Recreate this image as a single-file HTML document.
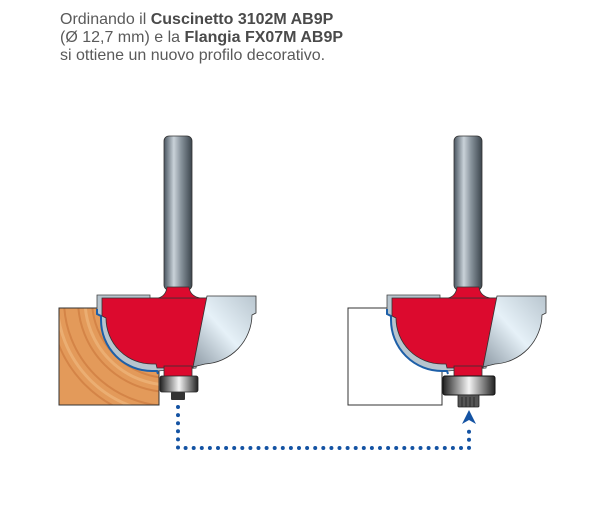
<!DOCTYPE html>
<html><head><meta charset="utf-8"><style>
html,body{margin:0;padding:0;background:#fff;width:616px;height:506px;overflow:hidden}
.t{position:absolute;left:60px;top:11px;font-family:"Liberation Sans","DejaVu Sans",sans-serif;font-size:16px;line-height:18px;color:#5a5a5a}
.t b{color:#4a4a4a}
svg{position:absolute;left:0;top:0}
</style></head><body>
<svg width="616" height="506" viewBox="0 0 616 506">
<defs>
<linearGradient id="sh" x1="0" x2="1" y1="0" y2="0">
<stop offset="0" stop-color="#4a5560"/><stop offset="0.35" stop-color="#c9d2d9"/><stop offset="0.6" stop-color="#8a959e"/><stop offset="1" stop-color="#3c454d"/></linearGradient>
<linearGradient id="sv" x1="0" x2="1" y1="1" y2="0">
<stop offset="0" stop-color="#8d9aa5"/><stop offset="0.5" stop-color="#e6f1f8"/><stop offset="1" stop-color="#b9c6cf"/></linearGradient>
<linearGradient id="br" x1="0" x2="1" y1="0" y2="0">
<stop offset="0" stop-color="#222"/><stop offset="0.2" stop-color="#777"/><stop offset="0.5" stop-color="#f4f4f4"/><stop offset="0.8" stop-color="#777"/><stop offset="1" stop-color="#222"/></linearGradient>
<clipPath id="wc"><rect x="59" y="308" width="100" height="97"/></clipPath>
<g id="cut">
<rect x="164" y="136" width="28" height="154" rx="5" fill="url(#sh)" stroke="#333" stroke-width="0.8"/>
<path d="M97,295 L150,295 L150,298 L207,298 L196,368 L157,371 L152,371 A51,51 0 0 1 101,320 L101,316 L97,314 Z" fill="#b7c4cd" stroke="#444" stroke-width="0.8"/>
<path d="M97,309 L97,314 L101,316 L101,320 A51,51 0 0 0 152,371 L157,371 L158,374" fill="none" stroke="#1d5fa8" stroke-width="2"/>
<path d="M102,298 L207,298 L193,368 L157,368 L156,364 L152,364 A46,46 0 0 1 106,318 L102,316 Z" fill="#dc0a2e" stroke="#333" stroke-width="0.8"/>
<path d="M167,287 L189,287 Q190,296 200,298 L158,298 Q166,296 167,287 Z" fill="#dc0a2e" stroke="#333" stroke-width="0.8"/>
<rect x="164" y="366" width="28" height="11" fill="#dc0a2e" stroke="#333" stroke-width="0.8"/>
<path d="M207,296 L256,296 L256,313 L252,315 A50,50 0 0 1 205,364 L193,367 Z" fill="url(#sv)" stroke="#333" stroke-width="0.8"/>
</g>
</defs>
<g clip-path="url(#wc)">
<rect x="59" y="308" width="100" height="97" fill="#e39a5a"/>
<g fill="none" stroke="#c06a30" stroke-opacity="0.45" stroke-width="2">
<circle cx="170" cy="300" r="30"/><circle cx="170" cy="300" r="48"/><circle cx="170" cy="300" r="62"/><circle cx="170" cy="300" r="78"/><circle cx="170" cy="300" r="92"/><circle cx="170" cy="300" r="106"/><circle cx="170" cy="300" r="120"/></g>
<g fill="none" stroke="#f4c28a" stroke-opacity="0.5" stroke-width="3">
<circle cx="170" cy="300" r="55"/><circle cx="170" cy="300" r="85"/><circle cx="170" cy="300" r="113"/></g>
</g>
<rect x="59" y="308" width="100" height="97" fill="none" stroke="#333" stroke-width="1"/>
<rect x="348" y="308" width="94" height="97" fill="#fff" stroke="#333" stroke-width="1"/>
<use href="#cut"/>
<use href="#cut" transform="translate(290,0)"/>
<rect x="160" y="376" width="38" height="16" rx="2" fill="url(#br)" stroke="#222" stroke-width="0.8"/>
<rect x="171" y="392" width="14" height="8" rx="1" fill="#333"/>
<rect x="443" y="376" width="52" height="19" rx="2" fill="url(#br)" stroke="#111" stroke-width="1"/>
<rect x="458" y="395" width="21" height="12" rx="1" fill="#555" stroke="#222" stroke-width="0.8"/>
<g stroke="#222" stroke-width="0.8"><line x1="462" y1="397" x2="462" y2="407"/><line x1="466" y1="397" x2="466" y2="407"/><line x1="470" y1="397" x2="470" y2="407"/><line x1="474" y1="397" x2="474" y2="407"/></g>
<path d="M178,407 L178,448 L469,448 L469,424" fill="none" stroke="#1453a3" stroke-width="4" stroke-linecap="round" stroke-dasharray="0 8.1"/>
<path d="M469,410 L476,424 L469,420 L462,424 Z" fill="#1453a3"/>
</svg>
<div class="t">Ordinando il <b>Cuscinetto 3102M AB9P</b><br>(Ø 12,7 mm) e la <b>Flangia FX07M AB9P</b><br>si ottiene un nuovo profilo decorativo.</div>
</body></html>
